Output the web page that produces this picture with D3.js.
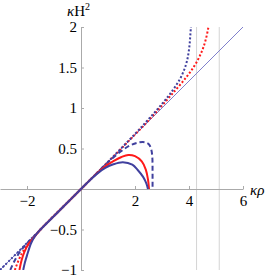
<!DOCTYPE html>
<html>
<head>
<meta charset="utf-8">
<script src="https://cdn.jsdelivr.net/npm/d3@7"></script>
<style>
  body { margin: 0; background: #fff; }
  svg text { font-family: "Liberation Serif", "Times New Roman", "DejaVu Serif", serif !important; }
</style>
</head>
<body>
<div id="chart"></div>
<script>
// axis ticks
const xTicks = [-2, 2, 4, 6];
const yTicks = [-1, -0.5, 0.5, 1, 1.5, 2];
const gridX = [4.28, 5.12];

// reference line y = x/3
const refLine = [[-3, -1], [6, 2]];

// curves, [x, y]
const blueSolid = [[-2.14,-1.0],[-2.08,-0.91],[-2.0,-0.82],[-1.85,-0.67],[-1.7,-0.58],[-1.5,-0.5],[-1.0,-0.333],[-0.5,-0.167],[0,0],[0.3,0.1],[0.6,0.19],[0.9,0.26],[1.2,0.305],[1.55,0.33],[1.9,0.30],[2.1,0.235],[2.3,0.15],[2.42,0.07],[2.48,0]];
const redSolid = [[-2.28,-1.0],[-2.2,-0.88],[-2.1,-0.78],[-1.95,-0.68],[-1.75,-0.6],[-1.5,-0.5],[-1.0,-0.333],[-0.5,-0.167],[0,0],[0.5,0.165],[0.9,0.28],[1.2,0.345],[1.5,0.395],[1.75,0.42],[2.0,0.405],[2.25,0.34],[2.4,0.24],[2.48,0.12],[2.52,0]];
const blueDashed = [[-2.62,-1.0],[-2.45,-0.88],[-2.25,-0.77],[-2.0,-0.67],[-1.75,-0.585],[-1.5,-0.5],[-1.0,-0.333],[0,0],[0.9,0.3],[1.2,0.39],[1.5,0.47],[1.8,0.535],[2.1,0.572],[2.37,0.577],[2.52,0.55],[2.6,0.49],[2.64,0.4],[2.65,0.2],[2.65,0]];
const blueDotted = [[-3,-1.0],[-1.5,-0.5],[0,0],[1.0,0.335],[2.0,0.68],[2.5,0.86],[3.0,1.05],[3.4,1.22],[3.7,1.38],[3.9,1.55],[4.0,1.72],[4.07,2.0],[4.1,2.15]];
const redDotted = [[-2.45,-1.0],[-2.2,-0.8],[-1.9,-0.66],[-1.5,-0.5],[0,0],[1.0,0.334],[2.0,0.672],[2.5,0.845],[3.0,1.03],[3.5,1.22],[3.9,1.38],[4.2,1.52],[4.45,1.68],[4.6,1.82],[4.72,2.0],[4.77,2.12]];

const width = 267, height = 280;

const svg = d3.select("#chart").append("svg")
    .attr("width", width)
    .attr("height", height);

const x = d3.scaleLinear().domain([-3, 6]).range([0, 243]);
const y = d3.scaleLinear().domain([-1, 2]).range([270, 27]);

svg.append("clipPath").attr("id", "clip")
  .append("rect")
    .attr("x", x(-3)).attr("y", y(2))
    .attr("width", x(6) - x(-3)).attr("height", y(-1) - y(2));

// grid lines
svg.selectAll(".grid")
  .data(gridX)
  .enter().append("line")
    .attr("x1", d => x(d)).attr("x2", d => x(d))
    .attr("y1", y(2)).attr("y2", y(-1))
    .attr("stroke", "#d4d4d4")
    .attr("stroke-width", 1);

const fmt = d => String(d).replace("-", "\u2212");

// axes
const xAxis = svg.append("g")
    .attr("transform", `translate(0,${y(0)})`)
    .call(d3.axisBottom(x).tickValues(xTicks).tickSizeInner(-3).tickSizeOuter(0).tickPadding(6).tickFormat(fmt));
const yAxis = svg.append("g")
    .attr("transform", `translate(${x(0)},0)`)
    .call(d3.axisLeft(y).tickValues(yTicks).tickSizeInner(-3).tickSizeOuter(0).tickPadding(4).tickFormat(fmt));

[xAxis, yAxis].forEach(g => {
  g.attr("font-family", null).attr("font-size", 15);
  g.select(".domain").attr("stroke", "#aaa");
  g.selectAll(".tick line").attr("stroke", "#aaa");
  g.selectAll(".tick text").attr("fill", "#000");
});

// curves
const line = d3.line()
    .x(d => x(d[0]))
    .y(d => y(d[1]))
    .curve(d3.curveCatmullRom);

const plot = svg.append("g").attr("clip-path", "url(#clip)");

plot.append("path")
    .attr("d", line(refLine))
    .attr("fill", "none")
    .attr("stroke", "#8080cc")
    .attr("stroke-width", 1);

const series = [
  {data: redDotted, color: "#ff1a1a", dash: "2,2"},
  {data: blueDotted, color: "#40409e", dash: "2,2"},
  {data: blueDashed, color: "#40409e", dash: "5,3"},
  {data: redSolid, color: "#ff1a1a", dash: null},
  {data: blueSolid, color: "#40409e", dash: null}
];

plot.selectAll(".curve")
  .data(series)
  .enter().append("path")
    .attr("class", "curve")
    .attr("d", d => line(d.data))
    .attr("fill", "none")
    .attr("stroke", d => d.color)
    .attr("stroke-width", 2)
    .attr("stroke-dasharray", d => d.dash);

// axis labels
const yLab = svg.append("text")
    .attr("x", 67).attr("y", 16)
    .style("font-size", "15px");
yLab.append("tspan").style("font-style", "italic").text("κ");
yLab.append("tspan").text("H");
yLab.append("tspan").attr("dy", -6).style("font-size", "10px").text("2");

svg.append("text")
    .attr("x", 250).attr("y", 195)
    .style("font-size", "15px")
    .style("font-style", "italic")
    .text("κρ");
</script>
</body>
</html>
